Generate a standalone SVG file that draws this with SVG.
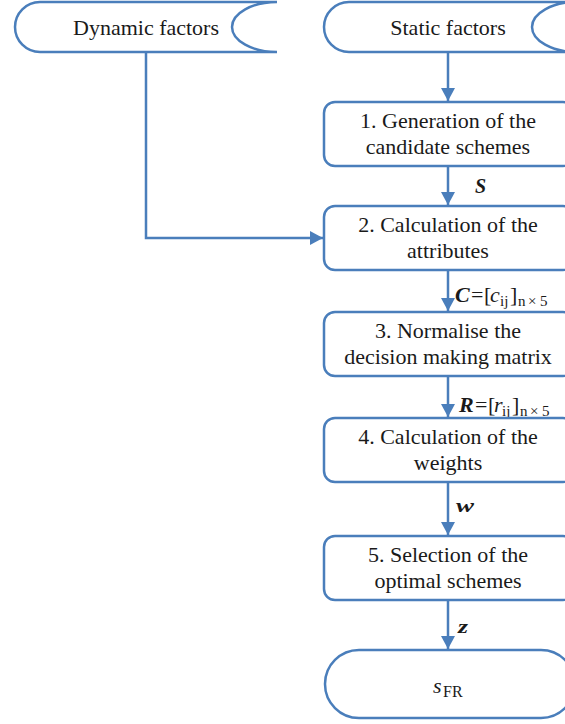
<svg xmlns="http://www.w3.org/2000/svg" width="565" height="724" viewBox="0 0 565 724" font-family="'Liberation Serif', Tinos, 'DejaVu Serif', serif">
  <style>
    .shape { fill: #ffffff; stroke: #4a7ebb; stroke-width: 2.5; }
    .link { fill: none; stroke: #4a7ebb; stroke-width: 2.5; }
    text { font-family: 'Liberation Serif', Tinos, 'DejaVu Serif', serif; fill: #1a1a1a; }
    .txt { font-size: 22px; text-anchor: middle; }
    .lbl { font-size: 22px; }
    .sub { font-size: 15px; }
    .bi { font-weight: bold; font-style: italic; }
    .it { font-style: italic; }
  </style>
  <defs>
    <marker id="arrow" markerUnits="userSpaceOnUse" markerWidth="14" markerHeight="14" viewBox="0 0 14 14" refX="13" refY="7" orient="auto">
      <path d="M0,0 L13,7 L0,14 Z" fill="#4a7ebb"/>
    </marker>
  </defs>

  <!-- connectors -->
  <g id="connectors">
    <path class="link" d="M146,52 V238 H323" marker-end="url(#arrow)"/>
    <path class="link" d="M448,52 V101" marker-end="url(#arrow)"/>
    <path class="link" d="M448,166 V205" marker-end="url(#arrow)"/>
    <path class="link" d="M448,270 V311" marker-end="url(#arrow)"/>
    <path class="link" d="M448,376 V417" marker-end="url(#arrow)"/>
    <path class="link" d="M448,482 V535" marker-end="url(#arrow)"/>
    <path class="link" d="M448,600 V649" marker-end="url(#arrow)"/>
  </g>

  <!-- connector labels -->
  <g id="labels">
    <text class="bi" x="475" y="193" font-size="20">S</text>
    <text class="lbl">
      <tspan class="bi" x="455" y="302">C</tspan><tspan x="471" y="302">=</tspan><tspan x="484" y="302">[</tspan><tspan class="it" x="490" y="302">c</tspan><tspan class="sub" x="500" y="306">ij</tspan><tspan x="510" y="302">]</tspan><tspan class="sub" x="518" y="306">n</tspan><tspan class="sub" x="528" y="306">×</tspan><tspan class="sub" x="540" y="306">5</tspan>
    </text>
    <text class="lbl">
      <tspan class="bi" x="459" y="412">R</tspan><tspan x="475" y="412">=</tspan><tspan x="488" y="412">[</tspan><tspan class="it" x="494" y="412">r</tspan><tspan class="sub" x="502" y="416">ij</tspan><tspan x="512" y="412">]</tspan><tspan class="sub" x="520" y="416">n</tspan><tspan class="sub" x="530" y="416">×</tspan><tspan class="sub" x="542" y="416">5</tspan>
    </text>
    <text class="bi" x="456" y="512" font-size="18" textLength="18" lengthAdjust="spacingAndGlyphs">w</text>
    <text class="bi" x="458" y="633" font-size="18" textLength="10" lengthAdjust="spacingAndGlyphs">z</text>
  </g>

  <!-- stored-data inputs -->
  <g id="dynamic-factors">
    <path class="shape" d="M40,2 H277 A45,25 0 0 0 277,52 H40 A25,25 0 0 1 40,2 Z"/>
    <text class="txt" x="146" y="35">Dynamic factors</text>
  </g>
  <g id="static-factors">
    <path class="shape" d="M349,2 H577 A45,25 0 0 0 577,52 H349 A25,25 0 0 1 349,2 Z"/>
    <text class="txt" x="448" y="35">Static factors</text>
  </g>

  <!-- process steps -->
  <g id="step1">
    <rect class="shape" x="324" y="102" width="250" height="64" rx="11"/>
    <text class="txt" x="448" y="128">1. Generation of the</text>
    <text class="txt" x="448" y="154">candidate schemes</text>
  </g>
  <g id="step2">
    <rect class="shape" x="324" y="206" width="250" height="64" rx="11"/>
    <text class="txt" x="448" y="232">2. Calculation of the</text>
    <text class="txt" x="448" y="258">attributes</text>
  </g>
  <g id="step3">
    <rect class="shape" x="324" y="312" width="250" height="64" rx="11"/>
    <text class="txt" x="448" y="338">3. Normalise the</text>
    <text class="txt" x="448" y="364">decision making matrix</text>
  </g>
  <g id="step4">
    <rect class="shape" x="324" y="418" width="250" height="64" rx="11"/>
    <text class="txt" x="448" y="444">4. Calculation of the</text>
    <text class="txt" x="448" y="470">weights</text>
  </g>
  <g id="step5">
    <rect class="shape" x="324" y="536" width="250" height="64" rx="11"/>
    <text class="txt" x="448" y="562">5. Selection of the</text>
    <text class="txt" x="448" y="588">optimal schemes</text>
  </g>

  <!-- terminal output -->
  <g id="output">
    <rect class="shape" x="325" y="650" width="250" height="68" rx="34"/>
    <text class="lbl"><tspan class="it" x="433" y="693">s</tspan><tspan x="443" y="697" font-size="16">FR</tspan></text>
  </g>
</svg>
